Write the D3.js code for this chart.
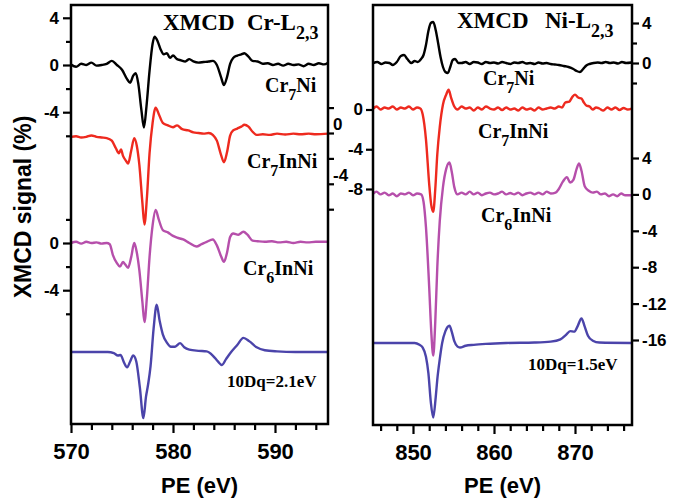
<!DOCTYPE html>
<html>
<head>
<meta charset="utf-8">
<script src="https://cdn.jsdelivr.net/npm/d3@7"></script>
<style>
  body { margin: 0; background: #fff; }
  svg { display: block; }
  .tick text { font-family: "Liberation Sans", Arial, sans-serif; font-weight: bold; fill: #000; }
  .tick line { stroke: #000; stroke-width: 2.2; }
</style>
</head>
<body>
<svg width="699" height="502"></svg>
<script>
// ---- data (energy eV, XMCD %) ----
const crTicksX = [570, 580, 590];
const niTicksX = [850, 860, 870];

// Cr L2,3 edge
const crCr7Ni = [[570,0.05],[570.5,-0.15],[571,0.1],[571.5,0],[572,0.2],[572.5,-0.05],[573,0],[573.5,0.1],[574,0.35],[574.5,0],[575,-0.4],[575.5,-1.2],[575.8,-1.5],[576.1,-0.9],[576.35,-0.7],[576.6,-1.6],[576.9,-3.8],[577.15,-5.3],[577.4,-3.5],[577.7,-0.5],[578,1.8],[578.2,2.4],[578.5,2.0],[578.8,1.3],[579.1,0.9],[579.4,1.0],[579.7,0.6],[580,0.8],[580.4,0.5],[580.8,0.4],[581.2,0.3],[581.6,0.5],[582,0.3],[582.5,0.2],[583,0.25],[583.5,0.3],[583.9,0.35],[584.3,0],[584.7,-1.0],[585,-1.7],[585.3,-1.0],[585.6,0.1],[585.9,0.6],[586.3,0.8],[586.7,0.9],[587,1.0],[587.4,0.7],[587.8,0.35],[588.3,0.3],[588.8,0.1],[589.3,0.15],[589.8,0],[590.3,0.1],[590.8,-0.05],[591.3,0.1],[591.8,0],[592.3,0.05],[592.8,-0.1],[593.3,0.1],[593.8,0],[594.3,0.15],[594.8,0.05],[595.2,0.2]];
const crCr7InNi = [[570,-0.3],[570.5,-0.25],[571,-0.35],[571.5,-0.3],[572,-0.2],[572.5,-0.3],[573,-0.35],[573.5,-0.4],[574,-0.6],[574.4,-1.2],[574.7,-1.6],[574.9,-1.3],[575.1,-1.8],[575.4,-2.2],[575.6,-2.4],[575.9,-1.4],[576.2,-0.4],[576.45,-1.0],[576.7,-2.5],[577,-5.5],[577.2,-7.2],[577.45,-5.0],[577.7,-1.6],[578,0.8],[578.3,2.0],[578.6,1.5],[579,0.8],[579.5,0.6],[580,0.45],[580.4,0.6],[580.9,0.3],[581.5,0.2],[582,0.05],[582.5,0],[583,-0.05],[583.5,0],[583.9,-0.15],[584.3,-0.6],[584.7,-1.7],[585,-2.3],[585.3,-1.5],[585.6,-0.2],[585.9,0.2],[586.3,0.35],[586.7,0.5],[587,0.65],[587.4,0.5],[587.8,0.1],[588.2,-0.15],[588.8,-0.1],[589.5,-0.15],[590.2,-0.05],[591,-0.12],[591.8,-0.05],[592.5,-0.1],[593.3,-0.05],[594,-0.1],[595.2,-0.05]];
const crCr6InNi = [[570,0],[570.5,0.1],[571,-0.05],[571.5,0.1],[572,0],[572.5,0.05],[573,-0.05],[573.5,0],[573.8,-0.1],[574.1,-1.0],[574.5,-1.7],[574.8,-2.0],[575.1,-1.6],[575.3,-1.8],[575.6,-2.1],[575.9,-1.2],[576.2,0],[576.45,-0.8],[576.7,-2.3],[577,-5.0],[577.2,-6.7],[577.45,-4.5],[577.7,-1.2],[578,1.5],[578.3,2.8],[578.6,2.0],[579,1.1],[579.5,0.9],[580,0.6],[580.4,0.45],[581,0.3],[581.6,0],[582.3,-0.3],[582.8,-0.1],[583.3,0.1],[583.9,0.3],[584.3,-0.2],[584.7,-1.1],[585,-1.6],[585.3,-0.8],[585.6,0.5],[585.9,0.8],[586.4,0.7],[586.9,0.95],[587.3,0.7],[587.8,0.2],[588.3,0.15],[589,0.1],[589.7,0.15],[590.4,0.05],[591.1,0.1],[591.8,0],[592.5,0.1],[593.2,0.05],[594,0.1],[595.2,0.1]];
const crCalc = [[570,0],[572,0],[573.6,0],[574.2,-0.1],[574.6,-0.3],[574.85,-0.25],[575.2,-0.9],[575.5,-1.3],[575.8,-0.8],[576.1,-0.3],[576.4,-0.8],[576.75,-3.0],[577.1,-5.6],[577.35,-3.8],[577.55,-2.8],[577.8,-1.2],[578.1,2.0],[578.4,4.0],[578.7,2.6],[579,1.5],[579.4,0.8],[579.8,0.45],[580.2,0.45],[580.7,0.75],[581.1,0.4],[581.6,0.2],[582.5,0.1],[583.3,0.05],[583.9,-0.3],[584.4,-0.8],[584.8,-1.1],[585.2,-0.6],[585.7,0],[586.3,0.6],[586.9,1.2],[587.5,0.9],[588.2,0.4],[589,0.15],[590.2,0.05],[592,0],[595.2,0]];

// Ni L2,3 edge
const niCr7Ni = [[845.1,0],[845.6,0.1],[846.1,-0.1],[846.6,0.05],[847.1,0],[847.5,-0.2],[848,0.1],[848.5,0.7],[848.9,0.8],[849.3,0.4],[849.8,0],[850.2,0.2],[850.6,0.1],[851,0.4],[851.3,0.8],[851.6,1.8],[851.9,3.2],[852.2,4.0],[852.5,4.1],[852.8,3.3],[853.1,2.0],[853.4,0.6],[853.7,-0.4],[854,-0.9],[854.3,-1.0],[854.6,-0.4],[854.9,0.3],[855.2,0.4],[855.6,0],[856,0],[856.5,0.1],[857,-0.1],[857.5,0.1],[858,0.05],[858.5,-0.1],[859,0.1],[859.5,0],[860,0.05],[860.5,-0.05],[861,0.1],[861.5,0],[862,-0.1],[862.5,0.05],[863,0],[863.5,0.1],[864,-0.05],[864.5,0],[865,-0.1],[865.5,0.05],[866,-0.05],[866.5,0],[867,-0.1],[867.5,-0.15],[868,-0.2],[868.6,-0.3],[869.2,-0.4],[869.8,-0.6],[870.2,-0.8],[870.6,-0.9],[871,-0.6],[871.4,-0.25],[871.8,-0.1],[872.3,0],[872.8,0.05],[873.3,0],[873.8,0.1],[874.3,0],[874.8,0.05],[875.3,-0.05],[875.8,0.1],[876.3,0],[877,0.05]];
const niCr7InNi = [[845.1,0.1],[845.5,0.3],[846,0],[846.5,0.2],[847,0.1],[847.5,0.3],[848,0],[848.5,0.2],[849,0.1],[849.5,0.3],[850,0],[850.5,0.2],[850.9,0.1],[851.2,-0.5],[851.6,-3.0],[852,-7.5],[852.25,-9.6],[852.5,-10.3],[852.75,-8.0],[853,-4.5],[853.3,-1.8],[853.7,0.5],[854.1,1.5],[854.4,2.0],[854.7,1.2],[855.1,0.3],[855.5,0],[856,0.3],[856.5,0.1],[857,0.2],[857.5,-0.1],[858,0.2],[858.5,0],[859,0.3],[859.5,0.1],[860,0],[860.5,0.2],[861,-0.05],[861.5,0.2],[862,0],[862.5,0.1],[863,-0.1],[863.5,0.2],[864,0],[864.5,0.1],[865,-0.1],[865.5,0.2],[866,0],[866.5,0.1],[867,0.2],[867.5,0.1],[868,0.3],[868.4,0.2],[868.8,0.7],[869.3,0.8],[869.7,1.3],[870,1.5],[870.4,1.2],[870.8,1.1],[871.1,0.7],[871.4,0.4],[871.8,0.3],[872.2,0],[872.6,0.2],[873,0.1],[873.5,-0.1],[874,0.2],[874.5,0],[875,0.2],[875.5,-0.05],[876,0.15],[876.5,0],[877,0.1]];
const niCr6InNi = [[845.1,0.1],[845.5,0.3],[846,0],[846.5,0.2],[847,-0.1],[847.5,0.1],[848,-0.2],[848.5,0.1],[849,0],[849.5,0.2],[850,-0.1],[850.5,0.1],[851,0],[851.3,-0.8],[851.6,-3.6],[852,-10.2],[852.25,-15.0],[852.5,-17.7],[852.75,-14.0],[853,-8.0],[853.3,-3.0],[853.7,0.8],[854.1,2.8],[854.5,3.5],[854.8,2.4],[855.1,0.8],[855.5,0],[856,0.2],[856.5,0],[857,0.3],[857.5,0],[858,0.2],[858.5,-0.1],[859,0.1],[859.5,0.2],[860,0],[860.5,0.1],[861,0.3],[861.5,0],[862,0.15],[862.5,0],[863,0.2],[863.5,-0.1],[864,0.1],[864.5,0.2],[865,0],[865.5,0.2],[866,0],[866.5,0.3],[867,0.1],[867.6,0.2],[868,0.6],[868.5,1.4],[869,1.9],[869.4,1.3],[869.8,1.6],[870.2,2.8],[870.5,3.4],[870.8,2.6],[871.2,0.9],[871.7,0.4],[872.2,0.2],[872.7,0.3],[873.2,0],[873.7,0.1],[874.2,-0.2],[874.7,0],[875.2,-0.2],[875.7,0.1],[876.2,-0.1],[877,-0.1]];
const niCalc = [[845.1,0],[849,0],[850.2,0],[850.8,-0.2],[851.2,-0.5],[851.6,-1.5],[851.9,-3.3],[852.2,-6.5],[852.5,-8.2],[852.8,-6.0],[853,-4.0],[853.3,-1.8],[853.6,0],[854,1.3],[854.5,1.9],[854.8,1.2],[855.1,0.2],[855.5,-0.4],[855.8,-0.5],[856.5,-0.3],[857.5,-0.2],[859,-0.1],[861.5,0],[865,0.05],[867,0.15],[868.2,0.4],[868.9,0.9],[869.4,1.3],[869.9,1.25],[870.3,1.8],[870.8,2.7],[871.2,1.8],[871.6,0.8],[872.2,0.25],[873,0.05],[877,0]];

const colors = { exp1: "#000000", exp2: "#ee2a1f", exp3: "#b64fab", calc: "#4b44aa" };
const serif = '"Liberation Serif", "Times New Roman", serif';
const sans = '"Liberation Sans", Arial, sans-serif';

const svg = d3.select("svg");

// panel frames
const L = { x0: 71, x1: 328, y0: 5, y1: 424 };
const R = { x0: 373, x1: 632, y0: 5, y1: 425 };

const xL = d3.scaleLinear().domain([570, 590]).range([71, 275]);
const xR = d3.scaleLinear().domain([850, 870]).range([413, 575]);

// several stacked y scales, one per curve
const yLtop = d3.scaleLinear().domain([4, -6]).range([65 - 4 * 11.8, 65 + 6 * 11.8]);
const yMid = d3.scaleLinear().domain([2, -6]).range([133 - 2 * 12.7, 133 + 6 * 12.7]);
const yLlow = d3.scaleLinear().domain([2, -6]).range([243 - 2 * 11.8, 243 + 6 * 11.8]);
const yLcalc = d3.scaleLinear().domain([4, -6]).range([352 - 4 * 11.8, 352 + 6 * 11.8]);
const yRtop = d3.scaleLinear().domain([4, -2]).range([23, 83]);
const yRleft = d3.scaleLinear().domain([0, -8]).range([109.5, 189]);
const yRlow = d3.scaleLinear().domain([4, -16]).range([158, 340]);
const yRcalc = d3.scaleLinear().domain([4, -16]).range([343 - 4 * 9.1, 343 + 16 * 9.1]);

function curve(data, xs, ys, color, w) {
  svg.append("path")
    .datum(data)
    .attr("fill", "none")
    .attr("stroke", color)
    .attr("stroke-width", w)
    .attr("stroke-linejoin", "round")
    .attr("d", d3.line().x(d => xs(d[0])).y(d => ys(d[1])).curve(d3.curveMonotoneX));
}

curve(crCr7Ni, xL, yLtop, colors.exp1, 2.4);
curve(crCr7InNi, xL, yMid, colors.exp2, 2.4);
curve(crCr6InNi, xL, yLlow, colors.exp3, 2.4);
curve(crCalc, xL, yLcalc, colors.calc, 2.4);
curve(niCr7Ni, xR, yRtop, colors.exp1, 2.4);
curve(niCr7InNi, xR, yRleft, colors.exp2, 2.4);
curve(niCr6InNi, xR, yRlow, colors.exp3, 2.4);
curve(niCalc, xR, yRcalc, colors.calc, 2.4);

// axes
function axis(gen, tx, ty, fs, noLabel) {
  const g = svg.append("g").attr("transform", `translate(${tx},${ty})`).call(gen);
  g.select(".domain").remove();
  g.selectAll("text").style("font-size", fs + "px");
  if (noLabel) g.selectAll("text").remove();
  return g;
}
const fmt = d => d < 0 ? "-" + Math.abs(d) : String(d);

// bottom
axis(d3.axisBottom(xL).tickValues(crTicksX).tickSize(9).tickPadding(10).tickFormat(d3.format("d")), 0, L.y1, 22);
axis(d3.axisBottom(xL).tickValues(d3.range(572, 596, 2).filter(v => v % 10)).tickSize(6), 0, L.y1, 0, true);
axis(d3.axisBottom(xR).tickValues(niTicksX).tickSize(9).tickPadding(10).tickFormat(d3.format("d")), 0, R.y1, 22);
axis(d3.axisBottom(xR).tickValues(d3.range(846, 878, 2).filter(v => v % 10)).tickSize(6), 0, R.y1, 0, true);

// left panel, left side (two groups)
axis(d3.axisLeft(yLtop).tickValues([4, 0, -4]).tickSize(8).tickPadding(4).tickFormat(fmt), L.x0, 0, 17);
axis(d3.axisLeft(yLtop).tickValues([2, -2, -6]).tickSize(5), L.x0, 0, 0, true);
axis(d3.axisLeft(yLlow).tickValues([0, -4]).tickSize(8).tickPadding(4).tickFormat(fmt), L.x0, 0, 17);
axis(d3.axisLeft(yLlow).tickValues([2, -2, -6]).tickSize(5), L.x0, 0, 0, true);

// left panel, right side (Cr7InNi scale) - labels sit a little above the ticks
axis(d3.axisRight(yMid).tickValues([2, 0, -2, -4, -6]).tickSize(6), L.x1, 0, 0, true);
[0, -4].forEach(v => {
  svg.append("text")
    .attr("x", 333).attr("y", yMid(v) - 3)
    .style("font-family", sans).style("font-weight", "bold").style("font-size", "17px")
    .text(fmt(v));
});

// right panel, left side
axis(d3.axisLeft(yRleft).tickValues([0, -4, -8]).tickSize(7).tickPadding(3).tickFormat(fmt), R.x0, 0, 17);

// right panel, right side
axis(d3.axisRight(yRtop).tickValues([4, 0]).tickSize(7).tickPadding(3).tickFormat(fmt), R.x1, 0, 17);
axis(d3.axisRight(yRtop).tickValues([2, -2]).tickSize(5), R.x1, 0, 0, true);
axis(d3.axisRight(yRlow).tickValues([4, 0, -4, -8, -12, -16]).tickSize(7).tickPadding(3).tickFormat(fmt), R.x1, 0, 17);

// frames
[L, R].forEach(p => {
  svg.append("rect")
    .attr("x", p.x0).attr("y", p.y0)
    .attr("width", p.x1 - p.x0).attr("height", p.y1 - p.y0)
    .attr("fill", "none").attr("stroke", "#000").attr("stroke-width", 2.5);
});

// axis titles
[L, R].forEach(p => {
  svg.append("text")
    .attr("x", (p.x0 + p.x1) / 2).attr("y", 493)
    .attr("text-anchor", "middle")
    .style("font-family", sans).style("font-weight", "bold").style("font-size", "22px")
    .text("PE (eV)");
});
svg.append("text")
  .attr("transform", "translate(31,207) rotate(-90)")
  .attr("text-anchor", "middle")
  .style("font-family", sans).style("font-weight", "bold").style("font-size", "23px")
  .text("XMCD signal (%)");

// serif labels with subscripts: parts = [text, isSub]
function label(x, y, size, parts) {
  const t = svg.append("text")
    .attr("x", x).attr("y", y)
    .style("font-family", serif).style("font-weight", "bold").style("font-size", size + "px");
  let down = 0;
  parts.forEach(([s, sub]) => {
    const shift = sub ? Math.round(size * 0.38) : 0;
    t.append("tspan")
      .attr("dy", shift - down)
      .style("font-size", (sub ? Math.round(size * 0.8) : size) + "px")
      .text(s);
    down = shift;
  });
}

label(163, 30, 23, [["XMCD", 0]]);
label(247, 30, 23, [["Cr-L", 0], ["2,3", 1]]);
label(457, 28, 23, [["XMCD", 0]]);
label(545, 28, 23, [["Ni-L", 0], ["2,3", 1]]);

label(265, 92, 20, [["Cr", 0], ["7", 1], ["Ni", 0]]);
label(247, 168, 20, [["Cr", 0], ["7", 1], ["InNi", 0]]);
label(243, 275, 20, [["Cr", 0], ["6", 1], ["InNi", 0]]);
label(227, 387, 17, [["10Dq=2.1eV", 0]]);

label(483, 85, 20, [["Cr", 0], ["7", 1], ["Ni", 0]]);
label(478, 138, 20, [["Cr", 0], ["7", 1], ["InNi", 0]]);
label(481, 222, 20, [["Cr", 0], ["6", 1], ["InNi", 0]]);
label(528, 370, 17, [["10Dq=1.5eV", 0]]);
</script>
</body>
</html>
